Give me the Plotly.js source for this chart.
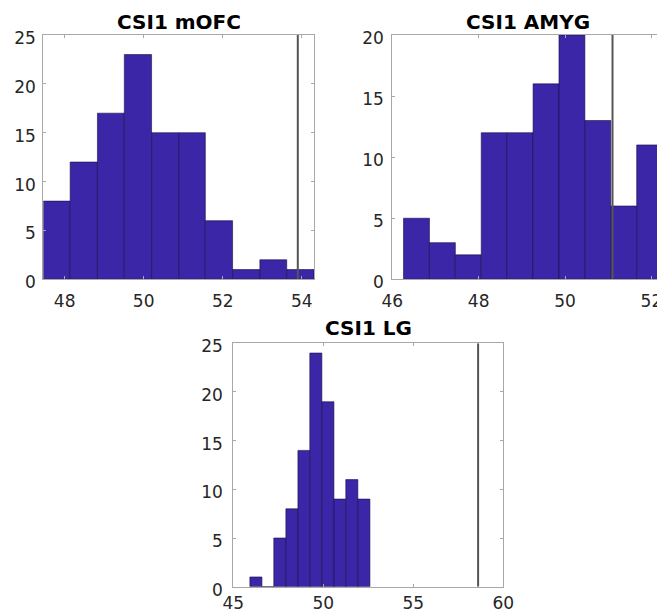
<!DOCTYPE html>
<html>
<head>
<meta charset="utf-8">
<script src="https://cdn.plot.ly/plotly-3.0.1.min.js"></script>
<style>
  html, body { margin: 0; padding: 0; background: #ffffff; overflow: hidden; }
  #chart { width: 657px; height: 614px; }
</style>
</head>
<body>
<div id="chart"></div>
<script>
// ---- data ----
const titles = ["CSI1 mOFC", "CSI1 AMYG", "CSI1 LG"];

const mofcEdges  = [47.46, 48.14, 48.83, 49.51, 50.20, 50.89, 51.56, 52.25, 52.94, 53.62, 54.31];
const mofcCounts = [8, 12, 17, 23, 15, 15, 6, 1, 2, 1];
const mofcLine   = 53.9;

const amygEdges  = [46.26, 46.86, 47.46, 48.06, 48.66, 49.26, 49.86, 50.46, 51.06, 51.66, 52.26];
const amygCounts = [5, 3, 2, 12, 12, 16, 20, 13, 6, 11];
const amygLine   = 51.1;

const lgEdges    = [45.92, 46.59, 47.25, 47.92, 48.59, 49.25, 49.92, 50.59, 51.25, 51.92, 52.59];
const lgCounts   = [1, 0, 5, 8, 14, 24, 19, 9, 11, 9];
const lgLine     = 58.6;

const mofcXTicks = [48, 50, 52, 54];
const amygXTicks = [46, 48, 50, 52];
const lgXTicks   = [45, 50, 55, 60];
const yTicks25   = [0, 5, 10, 15, 20, 25];
const yTicks20   = [0, 5, 10, 15, 20];

// ---- styles ----
const BAR = '#3a26a6';
const BAR_EDGE = 'rgba(25,15,70,0.75)';
const FRAME = '#a8a8a8';
const VLINE = '#555555';
const TXT = '#262626';
const FONT = 'DejaVu Sans, Arial, sans-serif';

function centers(e) { return e.slice(0, -1).map((v, i) => (v + e[i + 1]) / 2); }
function widths(e)  { return e.slice(0, -1).map((v, i) => e[i + 1] - v); }

function barTrace(edges, counts, xa, ya) {
  return {
    type: 'bar', x: centers(edges), y: counts, width: widths(edges),
    xaxis: xa, yaxis: ya,
    marker: { color: BAR, line: { color: BAR_EDGE, width: 0.8 } },
    hoverinfo: 'x+y', showlegend: false
  };
}
function lineTrace(v, ymax, xa, ya) {
  return {
    type: 'scatter', mode: 'lines', x: [v, v], y: [0, ymax],
    xaxis: xa, yaxis: ya,
    line: { color: VLINE, width: 2 }, hoverinfo: 'x', showlegend: false
  };
}

const data = [
  barTrace(mofcEdges, mofcCounts, 'x', 'y'),
  lineTrace(mofcLine, 25, 'x', 'y'),
  barTrace(amygEdges, amygCounts, 'x2', 'y2'),
  lineTrace(amygLine, 20, 'x2', 'y2'),
  barTrace(lgEdges, lgCounts, 'x3', 'y3'),
  lineTrace(lgLine, 25, 'x3', 'y3')
];

function xAxis(domain, range, ticks, anchor, mirror, standoff) {
  return {
    domain: domain, range: range, anchor: anchor,
    tickmode: 'array', tickvals: ticks, ticktext: ticks.map(String),
    showgrid: false, zeroline: false,
    showline: true, linecolor: FRAME, linewidth: 1, mirror: mirror,
    ticks: 'inside', ticklen: 3, tickcolor: FRAME, tickwidth: 1,
    ticklabelstandoff: standoff, ticklabeloverflow: 'allow',
    tickfont: { family: FONT, size: 17, color: TXT }
  };
}
function yAxis(domain, range, ticks, anchor, mirror, standoff) {
  return {
    domain: domain, range: range, anchor: anchor,
    tickmode: 'array', tickvals: ticks, ticktext: ticks.map(String),
    showgrid: false, zeroline: false,
    showline: true, linecolor: FRAME, linewidth: 1, mirror: mirror,
    ticks: 'inside', ticklen: 3, tickcolor: FRAME, tickwidth: 1,
    ticklabelshift: 3, ticklabelstandoff: standoff,
    tickfont: { family: FONT, size: 17, color: TXT }
  };
}

const W = 657, H = 614;
const px = v => v / W;
const py = v => 1 - v / H;

const layout = {
  width: W, height: H,
  margin: { l: 0, r: 0, t: 0, b: 0, pad: 0 },
  paper_bgcolor: '#ffffff', plot_bgcolor: '#ffffff',
  bargap: 0,
  xaxis:  xAxis([px(43.3), px(314)], [mofcEdges[0], mofcEdges[mofcEdges.length - 1]], mofcXTicks, 'y', 'allticks', 6),
  yaxis:  yAxis([py(279.3), py(35)], [0, 25], yTicks25, 'x', 'allticks', 3),
  xaxis2: xAxis([px(392.3), 1], [46, 52.13], amygXTicks, 'y2', 'allticks', 6),
  yaxis2: yAxis([py(279.3), py(35)], [0, 20], yTicks20, 'x2', false, 4),
  xaxis3: xAxis([px(233.3), px(503.3)], [45, 60], lgXTicks, 'y3', 'allticks', 1),
  yaxis3: yAxis([py(586.7), py(343.3)], [0, 25], yTicks25, 'x3', 'allticks', 6),
  annotations: [
    { text: '<b>' + titles[0] + '</b>', xref: 'paper', yref: 'paper', x: px(178.5), y: py(21.5),
      xanchor: 'center', yanchor: 'middle', showarrow: false,
      font: { family: FONT, size: 20, color: '#000000' } },
    { text: '<b>' + titles[1] + '</b>', xref: 'paper', yref: 'paper', x: px(527.5), y: py(21.5),
      xanchor: 'center', yanchor: 'middle', showarrow: false,
      font: { family: FONT, size: 20, color: '#000000' } },
    { text: '<b>' + titles[2] + '</b>', xref: 'paper', yref: 'paper', x: px(368.3), y: py(328.3),
      xanchor: 'center', yanchor: 'middle', showarrow: false,
      font: { family: FONT, size: 20, color: '#000000' } }
  ]
};

Plotly.newPlot('chart', data, layout, { displayModeBar: false, staticPlot: true });
</script>
</body>
</html>
